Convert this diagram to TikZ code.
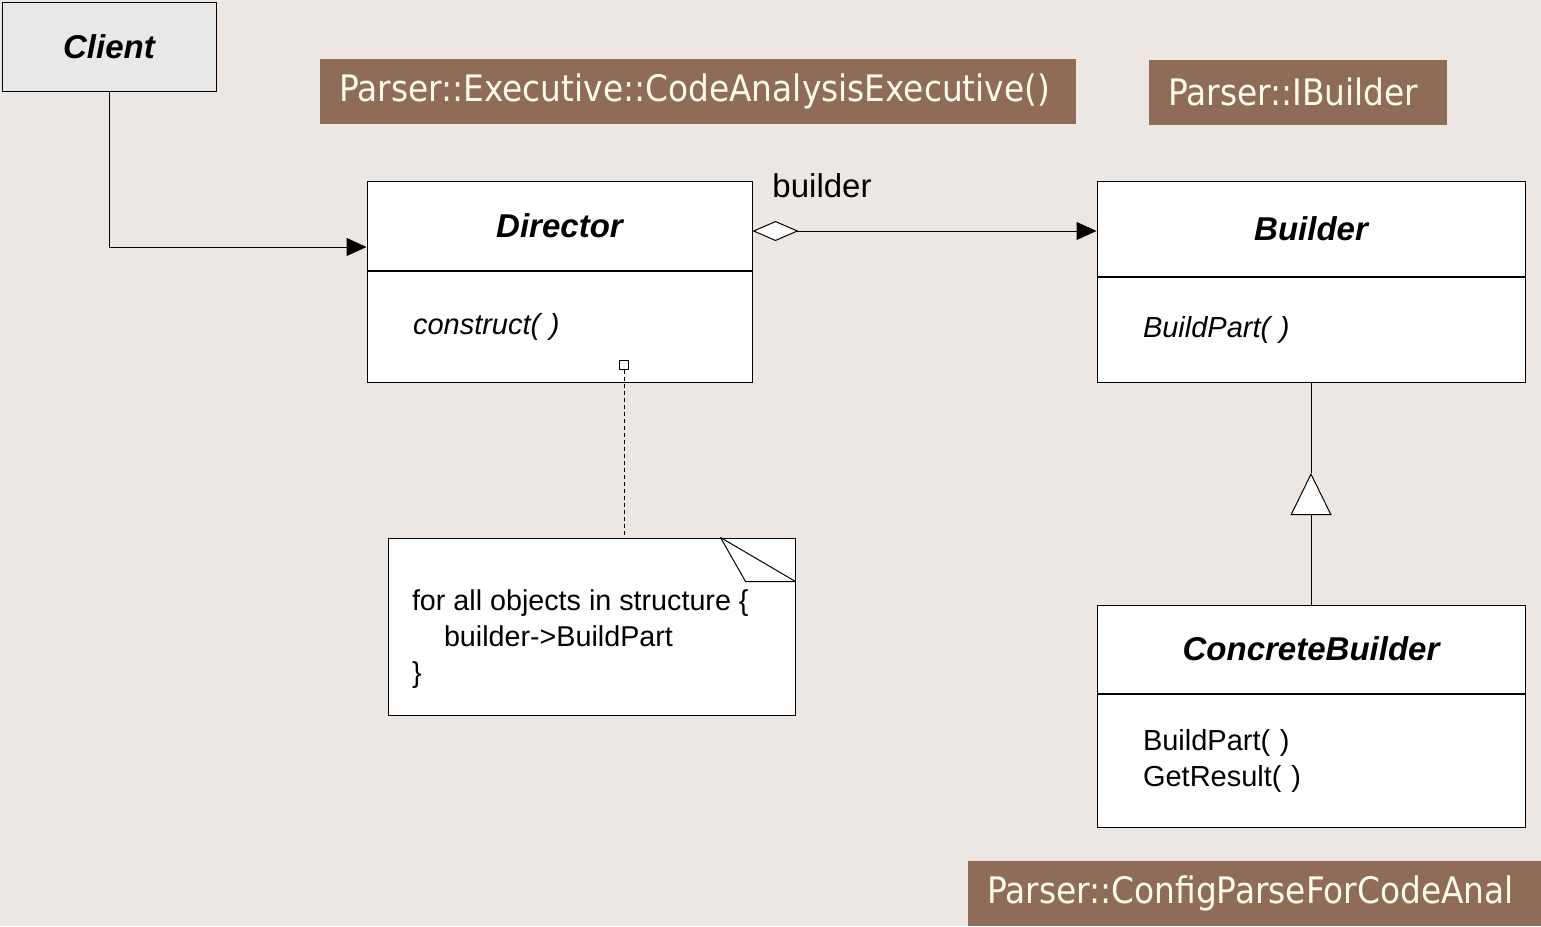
\documentclass[tikz,border=0pt]{standalone}
\usepackage{fontspec}
\setmainfont{Liberation Sans}
\newfontfamily\pkgfont{DejaVu Sans Condensed}
\usepackage{xcolor}
\usetikzlibrary{arrows.meta,positioning}

\definecolor{paper}{RGB}{236,231,227}
\definecolor{pkgbrown}{RGB}{142,108,88}
\definecolor{pkgtext}{RGB}{255,251,234}
\definecolor{clientgray}{RGB}{232,232,232}

\tikzset{
  clsname/.style={draw, fill=white, inner sep=0pt, font=\fontsize{33}{40}\selectfont\bfseries\itshape},
  clsops/.style={draw, fill=white, inner xsep=46pt, inner ysep=0pt, align=left, anchor=north, font=\fontsize{29}{36}\selectfont},
  pkglabel/.style={fill=pkgbrown, text=pkgtext, inner xsep=20pt, inner ysep=0pt, minimum height=65pt, anchor=west, align=left, font=\pkgfont\fontsize{36.5}{44}\selectfont},
  assoc/.style={-{Triangle[length=20pt,width=18pt]}},
}

\begin{document}
\begin{tikzpicture}[x=1pt, y=-1pt, line width=1pt]
\fill[paper] (0,0) rectangle (1541,926);
\useasboundingbox (0,0) rectangle (1541,926);

\node[pkglabel, text width=716pt] (execpkg) at (319,91.5) {Parser::Executive::CodeAnalysisExecutive()};
\node[pkglabel, text width=258pt] (ifacepkg) at (1148,92) {Parser::IBuilder};
\node[pkglabel, text width=560pt] (configpkg) at (967,893.5) {Parser::ConfigParseForCodeAnal};

\node[clsname, fill=clientgray, minimum width=214pt, minimum height=89pt] (client) at (109,46.5) {Client};

\node[clsname, minimum width=385pt, minimum height=89pt] (director) at (559.5,225.5) {Director};
\node[clsops, minimum width=385pt, text width=293pt, minimum height=111pt] (directorops) at (director.south) {\itshape construct( )};

\node[clsname, minimum width=428pt, minimum height=95pt] (builder) at (1311,228.5) {Builder};
\node[clsops, minimum width=428pt, text width=336pt, minimum height=105pt] (builderops) at (builder.south) {\itshape BuildPart( )};

\node[clsname, minimum width=428pt, minimum height=88pt] (concrete) at (1311,649) {ConcreteBuilder};
\node[clsops, minimum width=428pt, text width=336pt, minimum height=133pt] (concreteops) at (concrete.south) {BuildPart( )\\GetResult( )};

\node[draw, fill=white, minimum width=407pt, minimum height=177pt] (note) at (591.5,626.5) {};
\draw ([xshift=-75pt]note.north east) -- ++(25,44) -- ++(50,0);
\draw ([xshift=-75pt]note.north east) -- ([yshift=-44pt]note.north east);
\node[anchor=west, align=left, inner sep=0pt, font=\fontsize{28.7}{36}\selectfont] (notecode) at ([xshift=24pt,yshift=-12.5pt]note.west)
  {for all objects in structure \{\\\hspace*{32pt}builder->BuildPart\\\}};

\node[draw, fill=white, minimum size=9pt, inner sep=0pt, line width=0.8pt] (hook) at (624,365) {};
\draw[dash pattern=on 4pt off 3pt, line width=0.8pt] (hook.south) -- (hook.south |- note.north);

\draw[assoc] (client.south) |- ([yshift=-21.5pt]director.west);

\draw[{Diamond[length=46pt,width=20pt,fill=white]}-{Triangle[length=20pt,width=18pt]}]
  ([yshift=-5.5pt]director.east) -- ([yshift=-5.5pt]director.east -| builder.west);
\node[font=\fontsize{33}{40}\selectfont] (rolename) at (822,186) {builder};

\coordinate (gentip) at (1311,473);
\draw[-{Triangle[length=42pt,width=41pt,fill=white]}] (concrete.north) -- (gentip);
\draw (gentip) -- (builderops.south);
\end{tikzpicture}
\end{document}
